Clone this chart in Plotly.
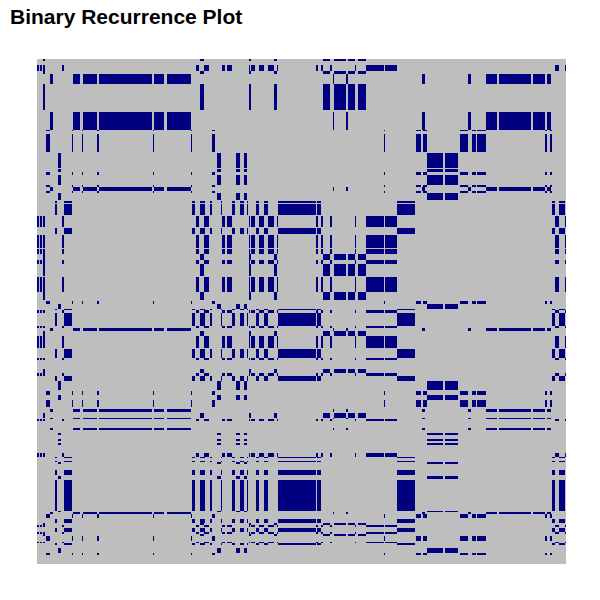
import numpy as np
import plotly.graph_objects as go

# Recurring column patterns: runs of recurrent samples along the horizontal series
state_R = [(6,8),(163,167),(212,214),(237,240),(286,293),(297,309),(311,318),(321,329)]
state_P = [(13,16),(36,43),(46,60),(62,115),(117,127),(130,154),(296,297),(309,311),(385,388),(431,434),(449,460),(462,494),(496,508),(510,514)]
state_U = [(9,13),(35,36),(45,46),(60,62),(116,117),(154,155),(175,178),(347,348),(379,384),(386,390),(423,431),(435,439),(440,449),(508,510),(513,515)]
state_V = [(21,24),(180,184),(199,203),(207,210),(390,406),(408,421)]
state_W = [(18,20),(27,35),(155,158),(163,168),(173,175),(184,185),(195,198),(203,207),(210,211),(219,222),(227,231),(241,279),(280,284),(360,378),(515,518),(522,528)]
state_X = [(0,2),(3,5),(6,8),(25,27),(159,162),(167,172),(185,188),(190,195),(212,213),(214,218),(222,227),(231,237),(240,241),(279,281),(284,286),(293,295),(318,319),(329,347),(348,360),(518,522),(528,529)]
states = {"R": state_R, "P": state_P, "U": state_U, "V": state_V, "W": state_W, "X": state_X, "N": []}

# Vertical series, read top to bottom: pattern label and the sample where it ends
row_bands = [
    ("R",2),("N",6),("X",12),("R",15),("P",25),("R",51),("N",53),("P",71),("U",72),("N",75),
    ("U",93),("N",94),("V",109),("N",110),("V",113),("U",116),("V",126),("U",128),("P",132),("U",134),
    ("V",141),("N",142),("W",144),("N",145),("W",156),("N",157),("X",168),("N",169),("W",175),("N",176),
    ("X",189),("N",190),("X",195),("R",201),("X",205),("R",217),("N",218),("X",233),("R",241),("N",242),
    ("U",245),("V",250),("W",251),("X",254),("W",267),("X",269),("P",272),("R",277),("X",289),("N",290),
    ("W",299),("X",301),("N",310),("R",314),("X",317),("W",322),("V",331),("N",332),("U",336),("V",341),
    ("U",348),("N",350),("P",353),("N",354),("R",359),("P",360),("X",362),("N",369),("P",371),("N",374),
    ("V",376),("N",380),("V",382),("N",384),("V",386),("N",394),("X",398),("W",399),("N",402),("W",403),
    ("V",405),("N",411),("W",416),("N",417),("V",420),("N",421),("W",452),("V",453),("P",455),("U",459),
    ("N",460),("W",464),("R",466),("X",468),("N",469),("W",473),("X",475),("R",477),("U",482),("N",483),
    ("X",484),("W",486),("N",489),("V",494),("U",496),("N",505),
]

n_rows = row_bands[-1][1]
n_cols = 529
z = np.zeros((n_rows, n_cols), dtype=int)
pos = 0
for label, end in row_bands:
    for a, b in states[label]:
        z[pos:end, a:b] = 1
    pos = end

fig = go.Figure(go.Heatmap(
    z=z,
    zmin=0, zmax=1,
    colorscale=[[0, "#BEBEBE"], [1, "#000080"]],
    showscale=False,
    hoverinfo="skip",
))
fig.update_layout(
    width=600, height=600,
    margin=dict(l=37, r=34, t=59, b=36),
    paper_bgcolor="white", plot_bgcolor="#BEBEBE",
    title=dict(text="<b>Binary Recurrence Plot</b>", x=10/600, xanchor="left",
               y=1-17/600, yanchor="middle",
               font=dict(family="Liberation Sans, Arial, sans-serif", size=21, color="black")),
    xaxis=dict(visible=False, range=[-0.5, n_cols-0.5]),
    yaxis=dict(visible=False, range=[n_rows-0.5, -0.5]),
)
fig.write_html("out.html", post_script="document.body.style.margin='0';",
               config={"displayModeBar": False})
